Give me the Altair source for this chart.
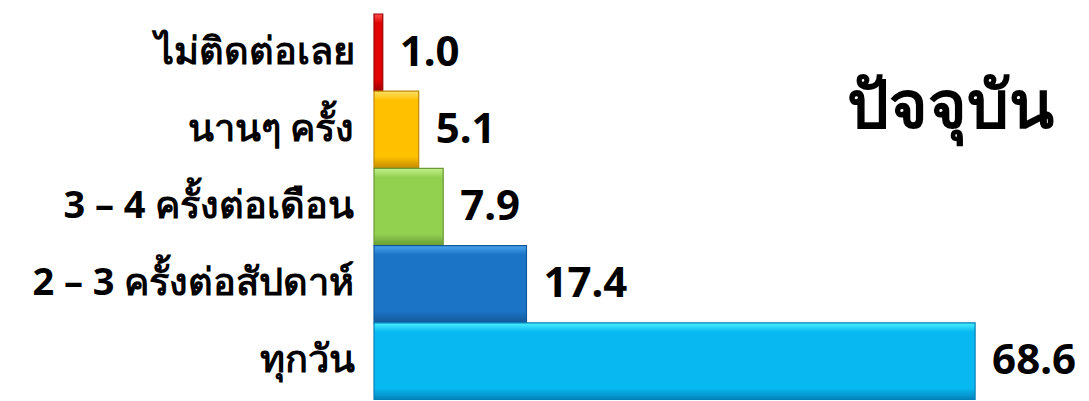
import altair as alt
import pandas as pd

categories = ["ไม่ติดต่อเลย", "นานๆ ครั้ง", "3 – 4 ครั้งต่อเดือน", "2 – 3 ครั้งต่อสัปดาห์", "ทุกวัน"]
values = [1.0, 5.1, 7.9, 17.4, 68.6]
labels = ["1.0", "5.1", "7.9", "17.4", "68.6"]
base_colors = ["#E00000", "#FFC000", "#92D050", "#1C74C6", "#08B8F0"]
light_colors = ["#FF5050", "#FFE066", "#C2EE8A", "#4AA6F0", "#4AF0FF"]
dark_colors = ["#9A0000", "#C08A00", "#6A9A36", "#13589A", "#0380B8"]
title_text = "ปัจจุบัน"

df = pd.DataFrame({"cat": categories, "val": values, "lab": labels})

FONT = "Noto Sans"

y_enc = alt.Y("cat:N", sort=categories, title=None,
              scale=alt.Scale(paddingInner=0, paddingOuter=0),
              axis=alt.Axis(domain=False, ticks=False, grid=False,
                            labelFontSize=38, labelFont=FONT, labelFontWeight="bold",
                            labelColor="black", labelPadding=20, labelLimit=400))
x_enc = alt.X("val:Q", title=None, scale=alt.Scale(domain=[0, 80], nice=False),
              axis=None)

layers = []
for i, c in enumerate(categories):
    grad = alt.Gradient(
        gradient="linear", x1=0, y1=0, x2=0, y2=1,
        stops=[alt.GradientStop(color=light_colors[i], offset=0),
               alt.GradientStop(color=base_colors[i], offset=0.12),
               alt.GradientStop(color=base_colors[i], offset=0.85),
               alt.GradientStop(color=dark_colors[i], offset=1)])
    layers.append(
        alt.Chart(df).transform_filter(alt.datum.cat == c)
        .mark_bar(color=grad, stroke=dark_colors[i], strokeWidth=1.2)
        .encode(x=x_enc, y=y_enc)
    )

text = alt.Chart(df).mark_text(align="left", baseline="middle", dx=17,
                                fontSize=42, font=FONT, fontWeight="bold",
                                color="black").encode(
    x=x_enc, y=y_enc, text="lab:N")

title = alt.Chart(pd.DataFrame({"t": [title_text]})).mark_text(
    align="center", baseline="alphabetic", fontSize=66, font=FONT,
    fontWeight="bold", color="black").encode(
    x=alt.value(576), y=alt.value(114), text="t:N")

chart = alt.layer(*layers, text, title).properties(
    width=701, height=386,
    autosize=alt.AutoSizeParams(type="none"),
    padding={"left": 366, "top": 6, "right": 0, "bottom": 0},
).configure(background="white").configure_view(stroke=None)

chart.save("out.html", embed_options={"renderer": "svg", "actions": False})
